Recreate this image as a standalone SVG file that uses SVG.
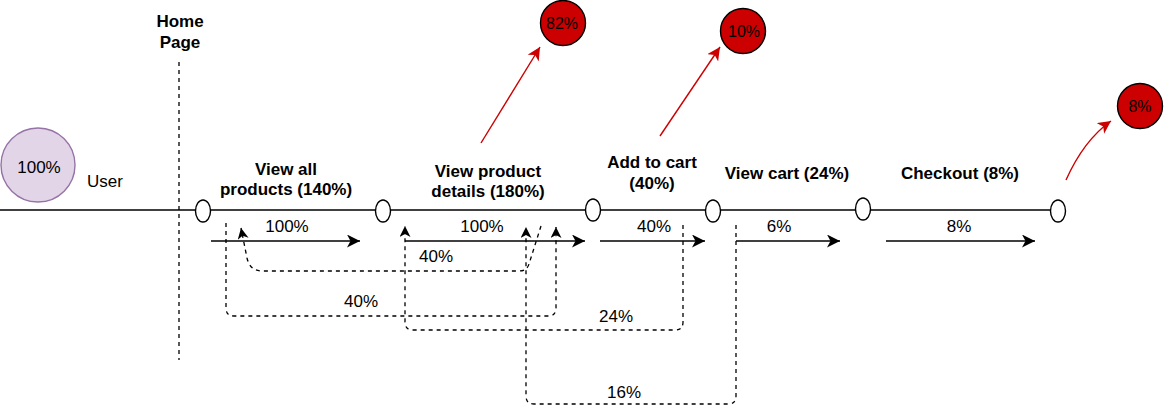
<svg xmlns="http://www.w3.org/2000/svg" width="1164" height="419" viewBox="0 0 1164 419">
<style>
text{font-family:"Liberation Sans",Arial,sans-serif;font-size:17px;fill:#000;text-anchor:middle}
.b{font-weight:bold}
.ln{stroke:#000;stroke-width:1.3;fill:none}
.d{stroke:#000;stroke-width:1.3;fill:none;stroke-dasharray:4 4}
.r{stroke:#cc0000;stroke-width:1.4;fill:none}
.pt{fill:#fff;stroke:#000;stroke-width:1.4}
.red{fill:#cc0000;stroke:#000;stroke-width:1.4}
</style>
<defs>
<marker id="ah" markerUnits="userSpaceOnUse" markerWidth="14" markerHeight="13" viewBox="0 0 14 13" refX="13" refY="6.5" orient="auto"><path d="M0,0 L13,6.5 L0,13 L3.5,6.5 Z" fill="#000"/></marker>
<marker id="ahs" markerUnits="userSpaceOnUse" markerWidth="12" markerHeight="11" viewBox="0 0 12 11" refX="11" refY="5.5" orient="auto"><path d="M0,0 L11,5.5 L0,11 L3,5.5 Z" fill="#000"/></marker>
<marker id="ar" markerUnits="userSpaceOnUse" markerWidth="14" markerHeight="13" viewBox="0 0 14 13" refX="13" refY="6.5" orient="auto"><path d="M0,0 L13,6.5 L0,13 L3.5,6.5 Z" fill="#cc0000"/></marker>
</defs>

<g id="homepage">
<text class="b" x="180" y="27">Home</text>
<text class="b" x="180" y="48">Page</text>
<line class="d" x1="179" y1="62" x2="179" y2="360"/>
</g>

<g id="connectors">
<line class="ln" x1="0" y1="210" x2="1052" y2="210"/>
<line class="ln" x1="211" y1="241" x2="360" y2="241" marker-end="url(#ah)"/>
<line class="ln" x1="405" y1="241" x2="585" y2="241" marker-end="url(#ah)"/>
<line class="ln" x1="600" y1="241" x2="705" y2="241" marker-end="url(#ah)"/>
<line class="ln" x1="736" y1="241" x2="840" y2="241" marker-end="url(#ah)"/>
<line class="ln" x1="886" y1="241" x2="1035" y2="241" marker-end="url(#ah)"/>
<path class="d" d="M226 223 V308 Q226 316 234 316 H548 Q556 316 556 308 V227" marker-end="url(#ahs)"/>
<path class="d" d="M541 226 L529 264 Q527 271 519 271 H262 Q250 271 247 258 L241 228" marker-end="url(#ahs)"/>
<path class="d" d="M683 225 V322 Q683 330 675 330 H413 Q405 330 405 322 V226" marker-end="url(#ahs)"/>
<path class="d" d="M736 225 V396 Q736 404 728 404 H534 Q526 404 526 396 V227" marker-end="url(#ahs)"/>
<line class="r" x1="481" y1="143" x2="540" y2="47" marker-end="url(#ar)"/>
<line class="r" x1="660" y1="136" x2="720" y2="47" marker-end="url(#ar)"/>
<path class="r" d="M1066 180 Q1084 140 1111 121" marker-end="url(#ar)"/>
<text x="287" y="232">100%</text>
<text x="482" y="232">100%</text>
<text x="654" y="232">40%</text>
<text x="779" y="232">6%</text>
<text x="959" y="232">8%</text>
<text x="436" y="262">40%</text>
<text x="361" y="307">40%</text>
<text x="616" y="322">24%</text>
<text x="624" y="398">16%</text>
</g>

<g id="user">
<circle cx="38" cy="165" r="37" fill="#e1d5e7" stroke="#9673a6" stroke-width="1.4"/>
<text x="39" y="173">100%</text>
<text x="87" y="187" style="text-anchor:start">User</text>
</g>

<g id="p1"><ellipse class="pt" cx="203" cy="211" rx="7.5" ry="11"/></g>
<g id="p2"><ellipse class="pt" cx="383" cy="211" rx="7.5" ry="11"/></g>
<g id="p3"><ellipse class="pt" cx="593" cy="210" rx="7.5" ry="11"/></g>
<g id="p4"><ellipse class="pt" cx="713" cy="211" rx="7.5" ry="11"/></g>
<g id="p5"><ellipse class="pt" cx="863" cy="209" rx="7.5" ry="11"/></g>
<g id="p6"><ellipse class="pt" cx="1058" cy="211" rx="7.5" ry="11"/></g>

<g id="viewall"><text class="b" x="286" y="175">View all</text><text class="b" x="286" y="195">products (140%)</text></g>
<g id="viewproduct"><text class="b" x="488" y="177">View product</text><text class="b" x="488" y="197">details (180%)</text></g>
<g id="addtocart"><text class="b" x="652" y="168">Add to cart</text><text class="b" x="652" y="189">(40%)</text></g>
<g id="viewcart"><text class="b" x="787" y="179">View cart (24%)</text></g>
<g id="checkout"><text class="b" x="960" y="179">Checkout (8%)</text></g>

<g id="drop82"><circle class="red" cx="563" cy="23" r="22.5"/><text x="562" y="29" style="font-size:16px">82%</text></g>
<g id="drop10"><circle class="red" cx="743" cy="31" r="22.5"/><text x="744" y="37" style="font-size:16px">10%</text></g>
<g id="drop8"><circle class="red" cx="1140" cy="106" r="22.5"/><text x="1140" y="112" style="font-size:16px">8%</text></g>
</svg>
